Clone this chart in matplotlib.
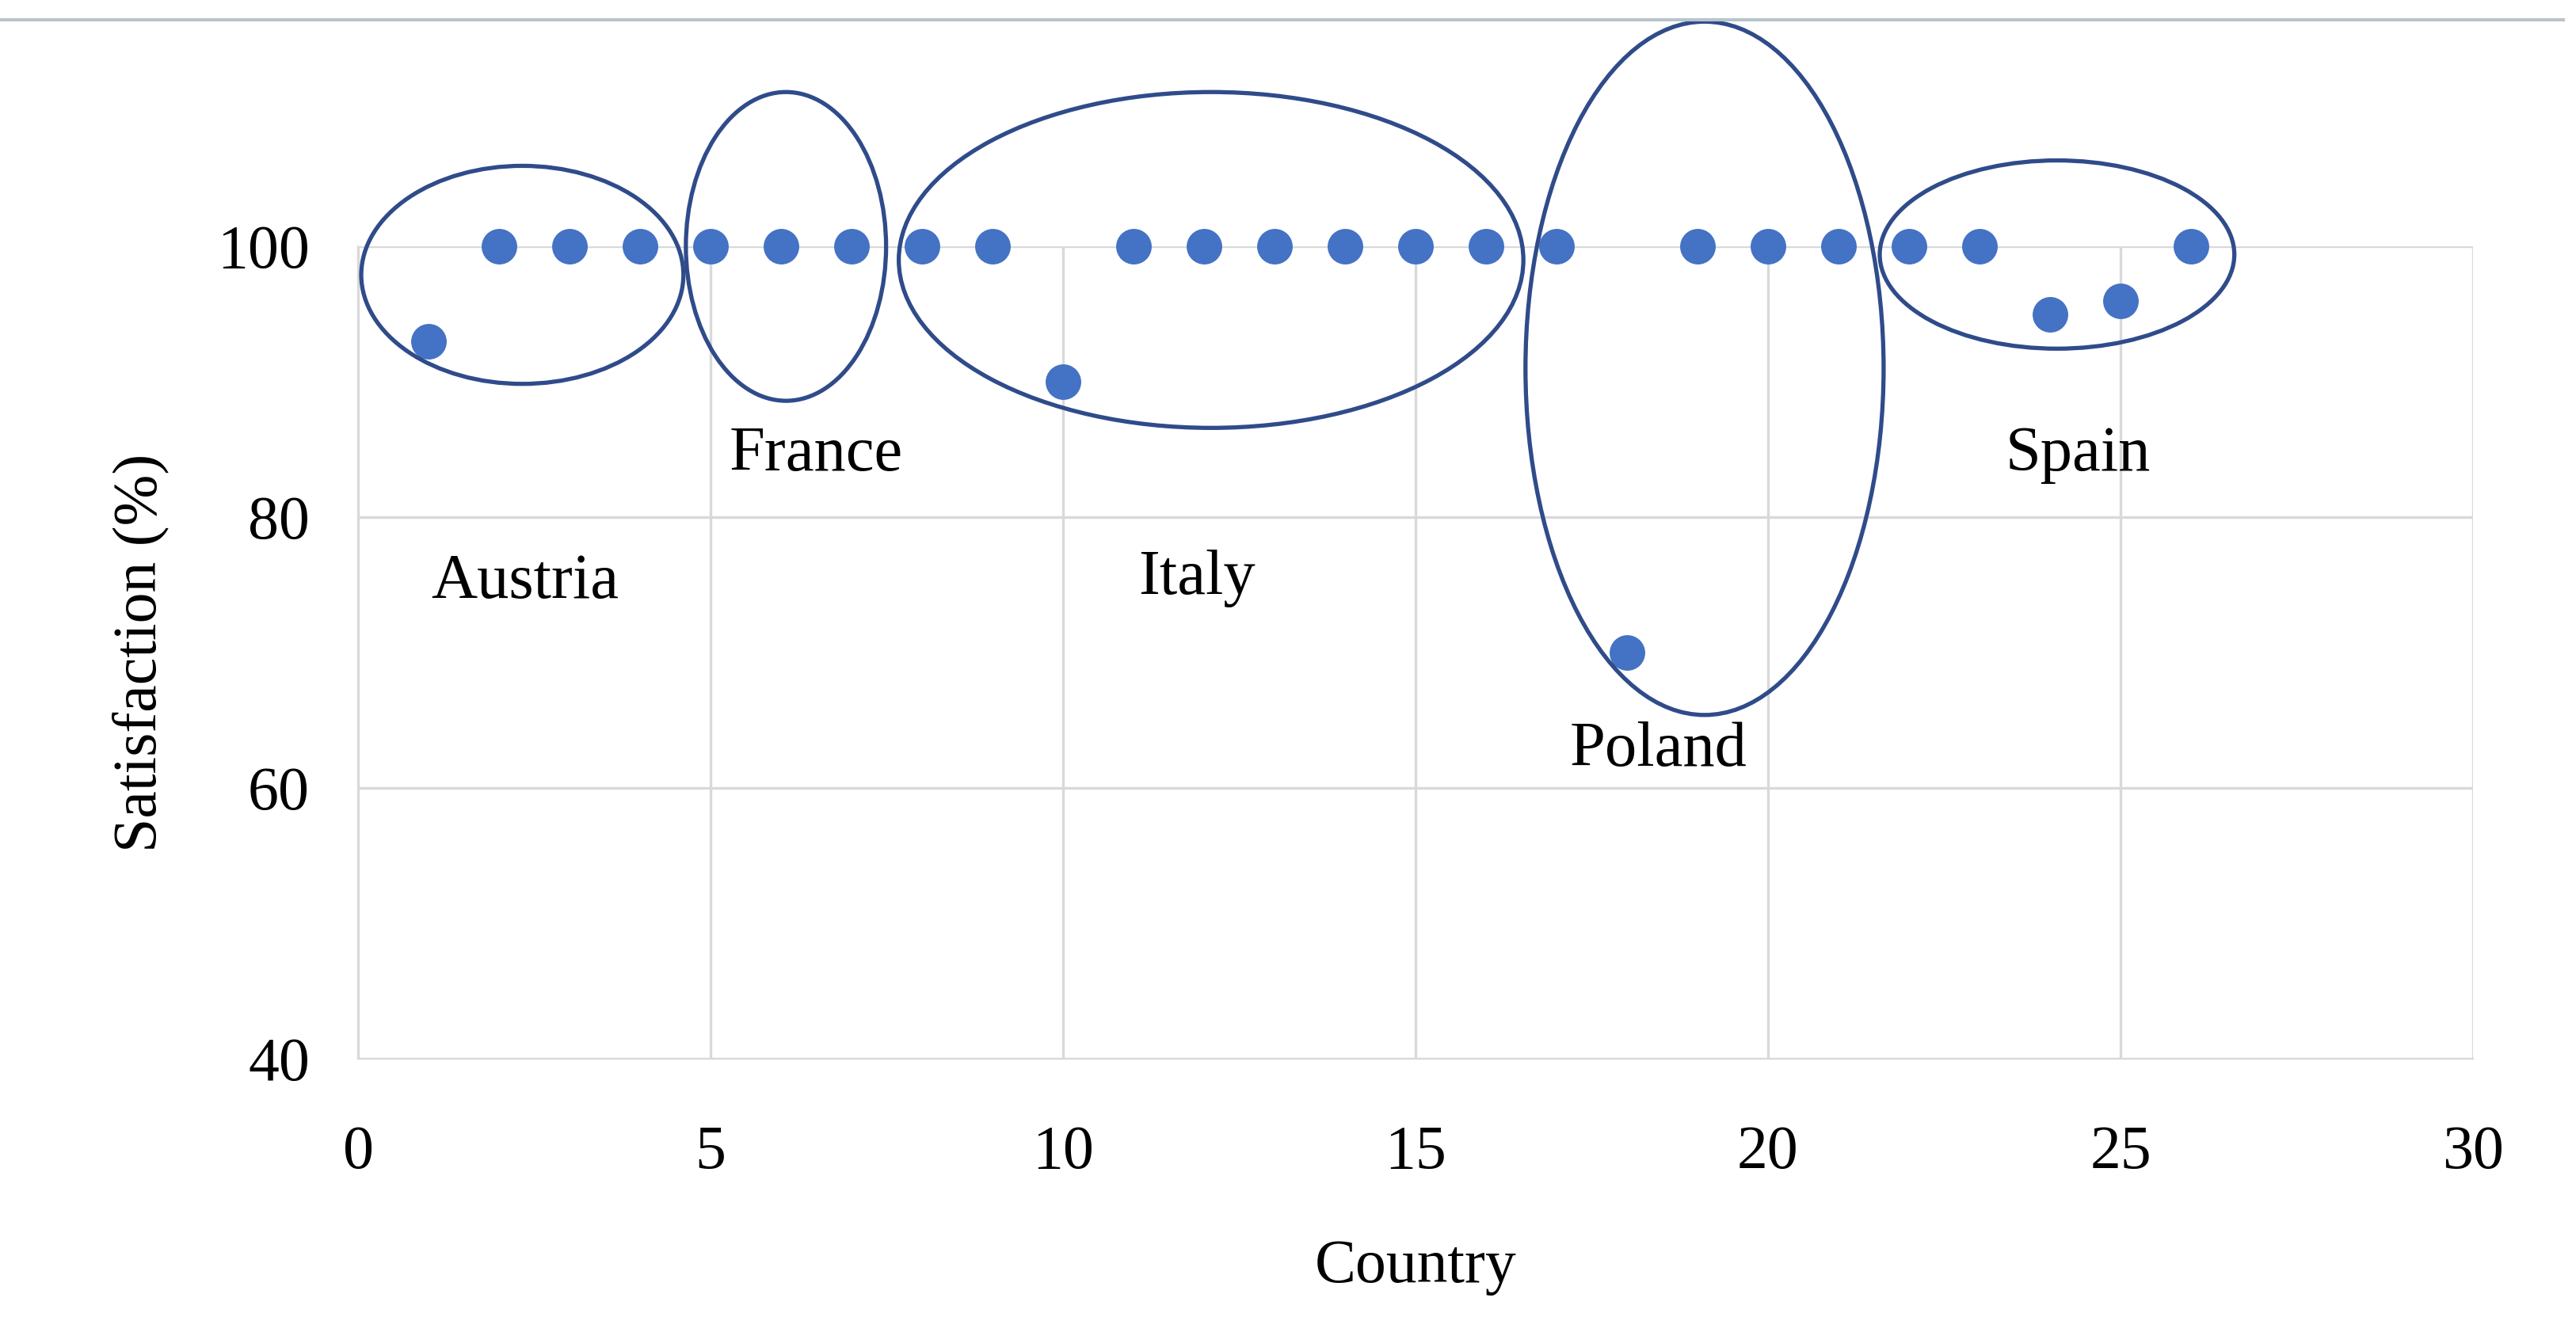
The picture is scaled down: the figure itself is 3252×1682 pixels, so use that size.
import matplotlib.pyplot as plt
from matplotlib.patches import Ellipse
from matplotlib.lines import Line2D

plt.rcParams['font.family'] = ['Liberation Serif', 'DejaVu Serif']

country = list(range(1, 27))
satisfaction = [93, 100, 100, 100, 100, 100, 100, 100, 100, 90,
                100, 100, 100, 100, 100, 100, 100, 70, 100, 100,
                100, 100, 100, 95, 96, 100]

groups = ['Austria', 'France', 'Italy', 'Poland', 'Spain']
# ellipse centre x, centre y, width, height (data units)
ell_x = [2.33, 6.07, 12.1, 19.1, 24.1]
ell_y = [97.9, 100, 99.0, 91.0, 99.4]
ell_w = [4.57, 2.84, 8.86, 5.08, 5.03]
ell_h = [16.1, 22.8, 24.8, 51.2, 13.9]
lab_x = [2.37, 6.5, 11.9, 18.45, 24.4]
lab_y = [75.2, 84.6, 75.5, 62.8, 84.6]

fig = plt.figure(figsize=(16.26, 8.41), dpi=200)
ax = fig.add_axes([0.139, 0.205, 0.821, 0.61])
ax.scatter(country, satisfaction, s=230, color='#4472C4', zorder=3, clip_on=False)

for i, g in enumerate(groups):
    ax.add_patch(Ellipse((ell_x[i], ell_y[i]), ell_w[i], ell_h[i], fill=False,
                         edgecolor='#2F4B8A', lw=1.9, clip_on=False, zorder=4))
    ax.text(lab_x[i], lab_y[i], g, ha='center', va='center', fontsize=29)

ax.set_xlim(0, 30)
ax.set_ylim(40, 100)
ax.set_xticks(range(0, 31, 5))
ax.set_yticks(range(40, 101, 20))
ax.grid(True, color='#d9d9d9', lw=1.2)
ax.set_axisbelow(True)
for s in ['top', 'right']:
    ax.spines[s].set_visible(False)
for s in ['left', 'bottom']:
    ax.spines[s].set_color('#d9d9d9')
ax.tick_params(length=0, labelsize=28)
ax.tick_params(axis='x', pad=30)
ax.tick_params(axis='y', pad=22)
ax.set_xlabel('Country', fontsize=28, labelpad=26)
ax.set_ylabel('Satisfaction (%)', fontsize=28, labelpad=22)

fig.add_artist(Line2D([0.0, 0.995], [0.985, 0.985], color='#b8c4cc', lw=1.5))

fig.savefig('out.png', dpi=200)
